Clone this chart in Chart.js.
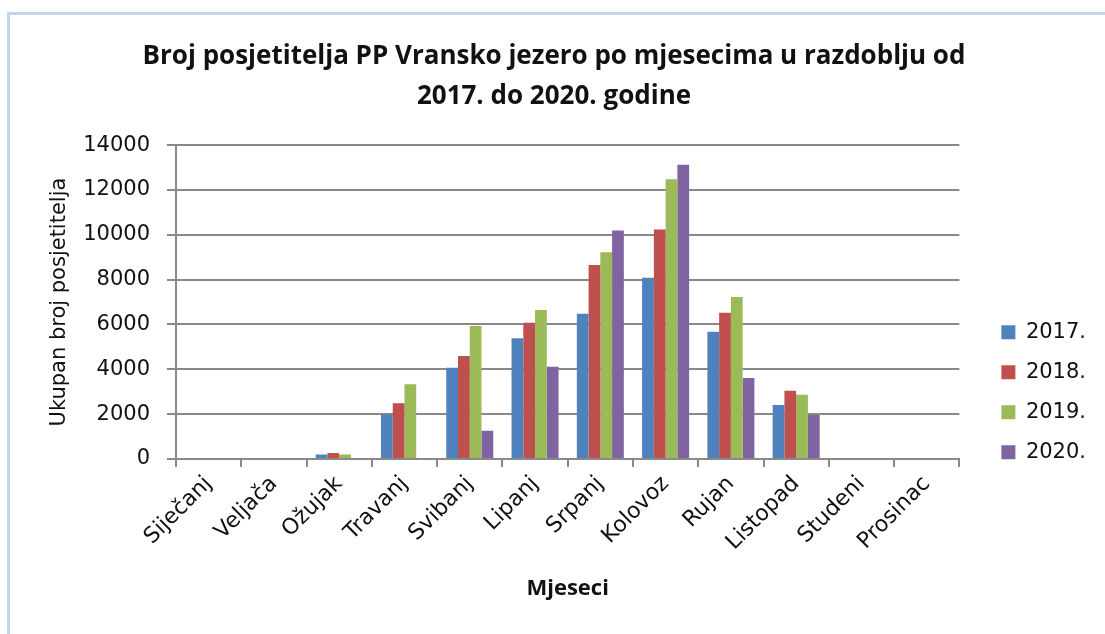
<!DOCTYPE html>
<html>
<head>
<meta charset="utf-8">
<script src="https://cdn.jsdelivr.net/npm/chart.js@4.4.1/dist/chart.umd.min.js"></script>
<style>
  html, body { margin: 0; padding: 0; background: #fff; }
  #wrap { position: relative; width: 1105px; height: 634px; overflow: hidden; }
  #frame { position: absolute; left: 7px; top: 12px; width: 1200px; height: 700px;
           border: 3px solid #c4d4eb; box-sizing: border-box; }
  #chart { position: absolute; left: 0; top: 0; }
</style>
</head>
<body>
<div id="wrap">
  <div id="frame"></div>
  <canvas id="chart" width="1105" height="634"></canvas>
</div>
<script>
var months = ['Siječanj', 'Veljača', 'Ožujak', 'Travanj', 'Svibanj', 'Lipanj',
              'Srpanj', 'Kolovoz', 'Rujan', 'Listopad', 'Studeni', 'Prosinac'];
var years = ['2017.', '2018.', '2019.', '2020.'];

var visitors2017 = [null, null, 200, 2000, 4070, 5380, 6480, 8085, 5675, 2410, null, null];
var visitors2018 = [null, null, 270, 2490, 4590, 6080, 8650, 10240, 6520, 3045, null, null];
var visitors2019 = [null, null, 200, 3335, 5930, 6640, 9215, 12480, 7220, 2870, null, null];
var visitors2020 = [null, null, null, null, 1260, 4115, 10195, 13120, 3610, 1960, null, null];

var yMin = 0, yMax = 14000, yStep = 2000;

var colors = ['#4f81bd', '#c0504d', '#9bbb59', '#8064a2'];
var gridColor = '#898989';
var textFont = 'DejaVu Sans';
var boldFont = 'Open Sans';

var series = [visitors2017, visitors2018, visitors2019, visitors2020];
var datasets = series.map(function(vals, i) {
  return {
    label: years[i],
    data: vals,
    backgroundColor: colors[i],
    borderWidth: 0,
    categoryPercentage: 0.72,
    barPercentage: 1.0
  };
});

new Chart(document.getElementById('chart'), {
  type: 'bar',
  data: { labels: months, datasets: datasets },
  options: {
    responsive: false,
    animation: false,
    layout: { padding: { left: 12, right: 9, top: 0, bottom: 0 } },
    scales: {
      x: {
        grid: { display: true, drawOnChartArea: false, drawTicks: true, offset: true,
                tickLength: 8, color: gridColor, lineWidth: 2 },
        border: { display: true, color: gridColor, width: 2 },
        ticks: { autoSkip: false, minRotation: 45, maxRotation: 45, padding: 4,
                 color: '#111', font: { family: textFont, size: 22 } },
        title: { display: true, text: 'Mjeseci', color: '#111',
                 font: { family: boldFont, size: 22, weight: 'bold' },
                 padding: { top: 0, bottom: 32 } },
        afterFit: function(scale) { scale.height = 175; }
      },
      y: {
        min: yMin, max: yMax,
        ticks: { stepSize: yStep, padding: 17, color: '#111',
                 font: { family: textFont, size: 21 },
                 callback: function(v) { return String(v); } },
        grid: { color: gridColor, lineWidth: 2, tickLength: 9 },
        border: { display: true, color: gridColor, width: 2 },
        title: { display: true, text: 'Ukupan broj posjetitelja', color: '#111',
                 font: { family: textFont, size: 21 },
                 padding: { top: 35, bottom: 0 } },
        afterFit: function(scale) { scale.width = 164; }
      },
      // empty spacer between plot and legend
      spacer: {
        type: 'linear', position: 'right', display: true,
        grid: { display: false }, ticks: { display: false }, border: { display: false },
        afterFit: function(scale) { scale.width = 23; }
      }
    },
    plugins: {
      title: {
        display: true,
        text: ['Broj posjetitelja PP Vransko jezero po mjesecima u razdoblju od',
               '2017. do 2020. godine'],
        color: '#111',
        font: { family: boldFont, size: 26, weight: 'bold', lineHeight: 1.54 },
        padding: { top: 37, bottom: 28 }
      },
      legend: {
        position: 'right',
        // blank legend title only pushes the entries down
        title: { display: true, text: ' ', font: { size: 12, lineHeight: 1.2 },
                 padding: { top: 136, bottom: 0 } },
        labels: { boxWidth: 14, boxHeight: 14, padding: 19, color: '#111',
                  font: { family: textFont, size: 21 } }
      },
      tooltip: { enabled: false }
    }
  }
});
</script>
</body>
</html>
